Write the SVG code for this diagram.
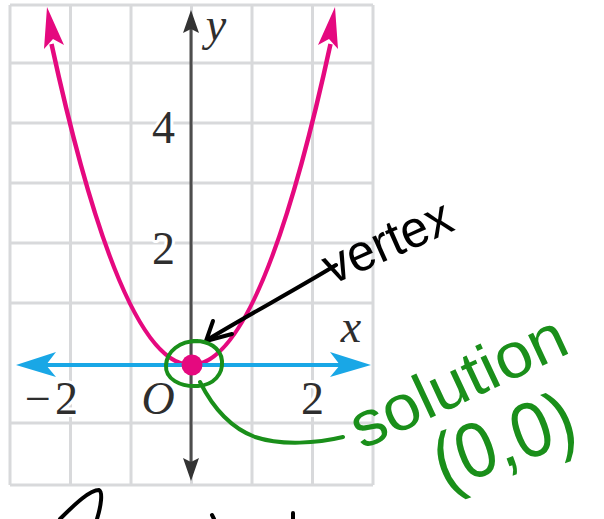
<svg xmlns="http://www.w3.org/2000/svg" width="604" height="519" viewBox="0 0 604 519">
  <style>
    .grid { stroke: #d8d9db; stroke-width: 3; fill: none; }
    .lbl { font-family: "Liberation Serif", "Times New Roman", serif; font-size: 46px; fill: #2e2e2e; stroke: #ffffff; stroke-width: 6; paint-order: stroke; stroke-linejoin: round; }
    .ital { font-style: italic; }
    .pink { stroke: #e5097f; stroke-width: 4.5; fill: none; }
    .pinkfill { fill: #e5097f; }
    .blue { stroke: #19a7e6; stroke-width: 4; fill: none; }
    .bluefill { fill: #19a7e6; }
    .axis { stroke: #4d4d4d; stroke-width: 3; fill: none; }
    .axisfill { fill: #333333; }
    .ink { stroke: #000000; stroke-width: 4; fill: none; stroke-linecap: round; stroke-linejoin: round; }
    .green { stroke: #1a8f1a; stroke-width: 4; fill: none; stroke-linecap: round; stroke-linejoin: round; }
    .hand { font-family: "Liberation Sans", Arial, sans-serif; }
  </style>
  <rect width="604" height="519" fill="#ffffff"/>

  <g id="grid">
    <path class="grid" d="M10,5 V485 M70.5,5 V485 M131,5 V485 M191.5,5 V485 M252,5 V485 M312.5,5 V485 M373,5 V485"/>
    <path class="grid" d="M10,5 H373 M10,63 H373 M10,123 H373 M10,183 H373 M10,243 H373 M10,303 H373 M10,423 H373 M10,485 H373"/>
  </g>

  <g id="y-axis">
    <line class="axis" x1="191" y1="28" x2="191" y2="462"/>
    <polygon class="axisfill" points="191,10 199,33 191,29 183,33"/>
    <polygon class="axisfill" points="191,481 199,458 191,462 183,458"/>
  </g>

  <g id="labels">
    <text class="lbl" x="163.5" y="143" text-anchor="middle">4</text>
    <text class="lbl" x="163.5" y="264" text-anchor="middle">2</text>
    <text class="lbl" x="25" y="414">−<tspan dx="4">2</tspan></text>
    <text class="lbl ital" x="158" y="414" text-anchor="middle">O</text>
    <text class="lbl" x="312.5" y="414" text-anchor="middle">2</text>
    <text class="lbl ital" x="351" y="342" text-anchor="middle">x</text>
    <text class="lbl ital" x="216" y="40" text-anchor="middle" font-size="44">y</text>
  </g>

  <g id="parabola">
    <path class="pink" d="M51.5,44 Q191,686 330.5,44"/>
    <polygon class="pinkfill" points="47,7 64,45 53,39 44,49"/>
    <polygon class="pinkfill" points="335,7 318,45 329,39 338,49"/>
  </g>

  <g id="x-axis">
    <line class="blue" x1="40" y1="365" x2="348" y2="365"/>
    <polygon class="bluefill" points="16,365 56,352 46,365 56,377"/>
    <polygon class="bluefill" points="371,365 330,352 340,365 330,377"/>
  </g>

  <g id="vertex-dot">
    <circle class="pinkfill" cx="192" cy="365" r="10.5"/>
  </g>

  <g id="connectors">
    <path class="ink" d="M207,340 C250,314 295,290 336,265"/>
    <path class="ink" d="M213,321 L206,341 L232,334"/>
    <path class="green" d="M197,341 C180,341 167,351 166,365 C165,379 180,387 198,386 C214,385 223,374 222,361 C221,348 208,340 193,341"/>
    <path class="green" d="M200,382 C210,402 226,426 255,437 C282,446 318,443 343,437"/>
  </g>

  <g id="vertex-note">
    <text class="hand" x="332" y="285" font-size="52" transform="rotate(-24 332 285)" textLength="136" lengthAdjust="spacingAndGlyphs">vertex</text>
  </g>

  <g id="solution-note">
    <text class="hand" x="362" y="450" font-size="64" fill="#1a8f1a" transform="rotate(-25 362 450)" textLength="232" lengthAdjust="spacingAndGlyphs">solution</text>
    <text class="hand" x="444" y="490" font-size="78" fill="#1a8f1a" transform="rotate(-20 444 490)" textLength="146" lengthAdjust="spacingAndGlyphs">(0,0)</text>
  </g>

  <g id="bottom-ink">
    <path class="ink" d="M60,519 C76,503 90,490 99,490 C103,492 101,506 97,519"/>
    <path class="ink" d="M212,515 L214,519"/>
    <path class="ink" d="M293,513 L293,519"/>
  </g>
</svg>
